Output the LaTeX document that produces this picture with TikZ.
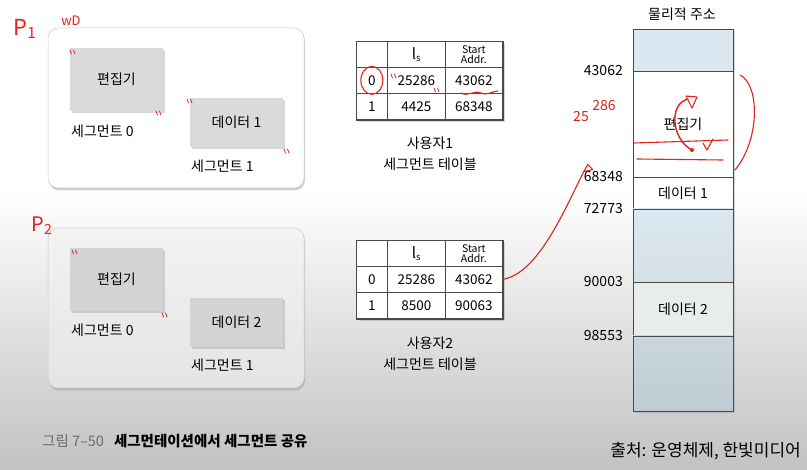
\documentclass[tikz,border=0pt]{standalone}
\usepackage{fontspec}
\setmainfont{Noto Sans CJK KR}
\usetikzlibrary{positioning,shadows,calc}
\definecolor{osGray}{HTML}{4A4A4A}
\definecolor{osGrayL}{HTML}{C9C9C9}
\definecolor{osGrayT}{HTML}{6A6A6A}
\definecolor{osSeg}{HTML}{D9DADC}
\definecolor{osSegD}{HTML}{D2D3D5}
\definecolor{osBack}{HTML}{C2C2C2}
\definecolor{osBoxT}{HTML}{F3F3F3}
\definecolor{osBoxB}{HTML}{E4E4E4}
\definecolor{osBlueL}{HTML}{DCE8F1}
\definecolor{osBlueM}{HTML}{D5E0E6}
\definecolor{osBlueD}{HTML}{BFCBD2}
\definecolor{osBlueT}{HTML}{CAD6DD}
\definecolor{osData}{HTML}{E9ECED}
\definecolor{osInk}{HTML}{E3231B}
\tikzset{
  os-proc/.style={draw=osGrayL, line width=0.5pt, rounded corners=10pt,
    fill=white, minimum width=256pt, minimum height=160pt,
    drop shadow={shadow xshift=1pt, shadow yshift=-2.5pt, opacity=0.35}},
  os-seg/.style={fill=osSeg, minimum width=93pt, inner sep=0pt,
    font=\fontsize{14}{16}\selectfont,
    drop shadow={shadow xshift=2pt, shadow yshift=-2pt, opacity=0.3}},
  os-label/.style={font=\fontsize{14}{16}\selectfont, anchor=west,
    inner sep=0pt},
  os-frame/.style={draw=osGray, line width=1.3pt, fill=white,
    minimum width=146pt, minimum height=78pt, inner sep=0pt,
    drop shadow={shadow xshift=2pt, shadow yshift=-2pt, opacity=0.3}},
  os-cell/.style={draw=osGray, line width=0.7pt, fill=white,
    minimum height=26pt, inner sep=0pt, outer sep=0pt,
    font=\fontsize{13.5}{15}\selectfont},
  os-head/.style={os-cell, font=\fontsize{10.5}{10}\selectfont,
    align=center},
  os-cap/.style={font=\fontsize{14}{21}\selectfont, align=center},
  os-mem/.style={draw=osGray, line width=0.7pt, minimum width=100pt,
    inner sep=0pt, outer sep=0pt, font=\fontsize{14}{16}\selectfont},
  os-addr/.style={font=\fontsize{14}{16}\selectfont, inner sep=0pt},
  os-ink/.style={draw=osInk, line width=1.1pt, line cap=round,
    line join=round},
  os-ink-text/.style={text=osInk, inner sep=0pt}
}
\begin{document}
\begin{tikzpicture}[x=1pt, y=-1pt]
% Background
\fill[white] (0,0) rectangle (807,190);
\shade[top color=white, bottom color=osBack] (0,190) rectangle (807,470);
\useasboundingbox (0,0) rectangle (807,470);

% Process 1
\node[os-proc] (p1) at (176,108) {};
\node[os-seg, minimum height=63pt] (p1-edit) at (116.5,79.5) {편집기};
\node[os-label] (p1-edit-lb) at (71,131) {세그먼트 0};
\node[os-seg, minimum height=49pt] (p1-data) at (236.5,122.5) {데이터 1};
\node[os-label] (p1-data-lb) at (191,166) {세그먼트 1};

% Process 2
\node[os-proc, top color=osBoxT, bottom color=osBoxB] (p2) at (176,308) {};
\node[os-seg, fill=osSegD, minimum height=63pt] (p2-edit) at (116.5,279.5) {편집기};
\node[os-label] (p2-edit-lb) at (71,330) {세그먼트 0};
\node[os-seg, fill=osSegD, minimum height=49pt] (p2-data) at (236.5,322.5) {데이터 2};
\node[os-label] (p2-data-lb) at (191,365) {세그먼트 1};

% Segment table 1
\node[os-frame] (t1) at (430,81) {};
\node[os-cell, minimum width=31pt, anchor=north west] (t1-h0) at (t1.north west) {};
\node[os-cell, minimum width=58pt, right=0pt of t1-h0] (t1-h1) {{\fontsize{15}{15}\selectfont l}\textsubscript{s}};
\node[os-head, minimum width=57pt, right=0pt of t1-h1] (t1-h2) {Start\\Addr.};
\node[os-cell, minimum width=31pt, below=0pt of t1-h0] (t1-r0c0) {0};
\node[os-cell, minimum width=58pt, below=0pt of t1-h1] (t1-r0c1) {25286};
\node[os-cell, minimum width=57pt, below=0pt of t1-h2] (t1-r0c2) {43062};
\node[os-cell, minimum width=31pt, below=0pt of t1-r0c0] (t1-r1c0) {1};
\node[os-cell, minimum width=58pt, below=0pt of t1-r0c1] (t1-r1c1) {4425};
\node[os-cell, minimum width=57pt, below=0pt of t1-r0c2] (t1-r1c2) {68348};
\node[os-cap] (t1-cap) at (430,153.5) {사용자1\\세그먼트 테이블};

% Segment table 2
\node[os-frame] (t2) at (430,280) {};
\node[os-cell, minimum width=31pt, anchor=north west] (t2-h0) at (t2.north west) {};
\node[os-cell, minimum width=58pt, right=0pt of t2-h0] (t2-h1) {{\fontsize{15}{15}\selectfont l}\textsubscript{s}};
\node[os-head, minimum width=57pt, right=0pt of t2-h1] (t2-h2) {Start\\Addr.};
\node[os-cell, minimum width=31pt, below=0pt of t2-h0] (t2-r0c0) {0};
\node[os-cell, minimum width=58pt, below=0pt of t2-h1] (t2-r0c1) {25286};
\node[os-cell, minimum width=57pt, below=0pt of t2-h2] (t2-r0c2) {43062};
\node[os-cell, minimum width=31pt, below=0pt of t2-r0c0] (t2-r1c0) {1};
\node[os-cell, minimum width=58pt, below=0pt of t2-r0c1] (t2-r1c1) {8500};
\node[os-cell, minimum width=57pt, below=0pt of t2-r0c2] (t2-r1c2) {90063};
\node[os-cap] (t2-cap) at (430,353.5) {사용자2\\세그먼트 테이블};

% Physical memory
\node[os-cap] (mem-title) at (682,14) {물리적 주소};
\node[os-mem, minimum height=382pt,
  drop shadow={shadow xshift=2pt, shadow yshift=-2pt, opacity=0.3}] (mem) at (683,220) {};
\node[os-mem, fill=osBlueL, minimum height=42pt, anchor=north] (mem-top) at (mem.north) {};
\node[os-mem, fill=white, minimum height=106pt, below=0pt of mem-top] (mem-edit) {편집기};
\node[os-mem, fill=white, minimum height=32pt, below=0pt of mem-edit] (mem-data1) {데이터 1};
\node[os-mem, top color=osBlueL, bottom color=osBlueM, minimum height=73pt,
  below=0pt of mem-data1] (mem-gap) {};
\node[os-mem, fill=osData, minimum height=54pt, below=0pt of mem-gap] (mem-data2) {데이터 2};
\node[os-mem, top color=osBlueT, bottom color=osBlueD, minimum height=75pt,
  below=0pt of mem-data2] (mem-bot) {};
\node[os-addr, left=10pt of mem-edit.north west] (a43062) {43062};
\node[os-addr, left=10pt of mem-data1.north west] (a68348) {68348};
\node[os-addr, left=10pt of mem-gap.north west] (a72773) {72773};
\node[os-addr, left=10pt of mem-data2.north west] (a90003) {90003};
\node[os-addr, left=10pt of mem-bot.north west] (a98553) {98553};

% Captions
\node[anchor=west, inner sep=0pt, font=\fontsize{14.5}{16}\selectfont] (fig-cap) at (42,441)
  {\textcolor{osGrayT}{그림 7–50}\hspace{10pt}\textbf{세그먼테이션에서 세그먼트 공유}};
\node[anchor=east, inner sep=0pt, font=\fontsize{17}{20}\selectfont] (src) at (801,451)
  {출처: 운영체제, 한빛미디어};

% Red notes
\node[os-ink-text, font=\fontsize{22}{24}\selectfont] (ink-p1) at (25,29) {P\textsubscript{1}};
\node[os-ink-text, font=\fontsize{13}{15}\selectfont] (ink-wd) at (71,21) {wD};
\node[os-ink-text, font=\fontsize{20}{22}\selectfont] (ink-p2) at (42,226) {P\textsubscript{2}};
\node[os-ink-text, font=\fontsize{14}{16}\selectfont] (ink-len-a) at (581,117) {25};
\node[os-ink-text, font=\fontsize{14}{16}\selectfont] (ink-len-b) at (604,106) {286};
\foreach \tx/\ty in {70/50, 156/111, 187/99, 284/149, 72/250, 162/313, 391/74, 434/88}
  \draw[os-ink, line width=0.8pt] (\tx,\ty) -- ++(1.5,4) (\tx+3.5,\ty) -- ++(1.5,4);
\draw[os-ink] (t1-r0c0.center) ellipse [x radius=11, y radius=14];
\draw[os-ink] (461,93) .. controls (468,97) and (474,90) .. (481,93)
  .. controls (488,96) and (492,91) .. (498,91);
\draw[os-ink] (t2-r0c2.east) .. controls +(35,-5) and +(-20,40) .. (a68348.north west);
\draw[os-ink] (a68348.north west) -- ++(4,-7) -- ++(5,5) -- cycle;
\draw[os-ink] ($(mem-edit.north east)+(7,4)$) .. controls +(20,10) and +(25,-30)
  .. ($(mem-data1.north east)+(2,-7)$);
\draw[os-ink] (634,143) -- (728,140);
\draw[os-ink] (637,159) -- (723,160);
\draw[os-ink, line width=1.4pt] (692,150) .. controls (672,140) and (668,104) .. (688,99);
\draw[os-ink] (686,96) -- (697,97) -- (692,108) -- cycle;
\fill[osInk] (692,150) circle (2);
\draw[os-ink] (703,143) -- (707,150) -- (713,139);
\end{tikzpicture}
\end{document}
